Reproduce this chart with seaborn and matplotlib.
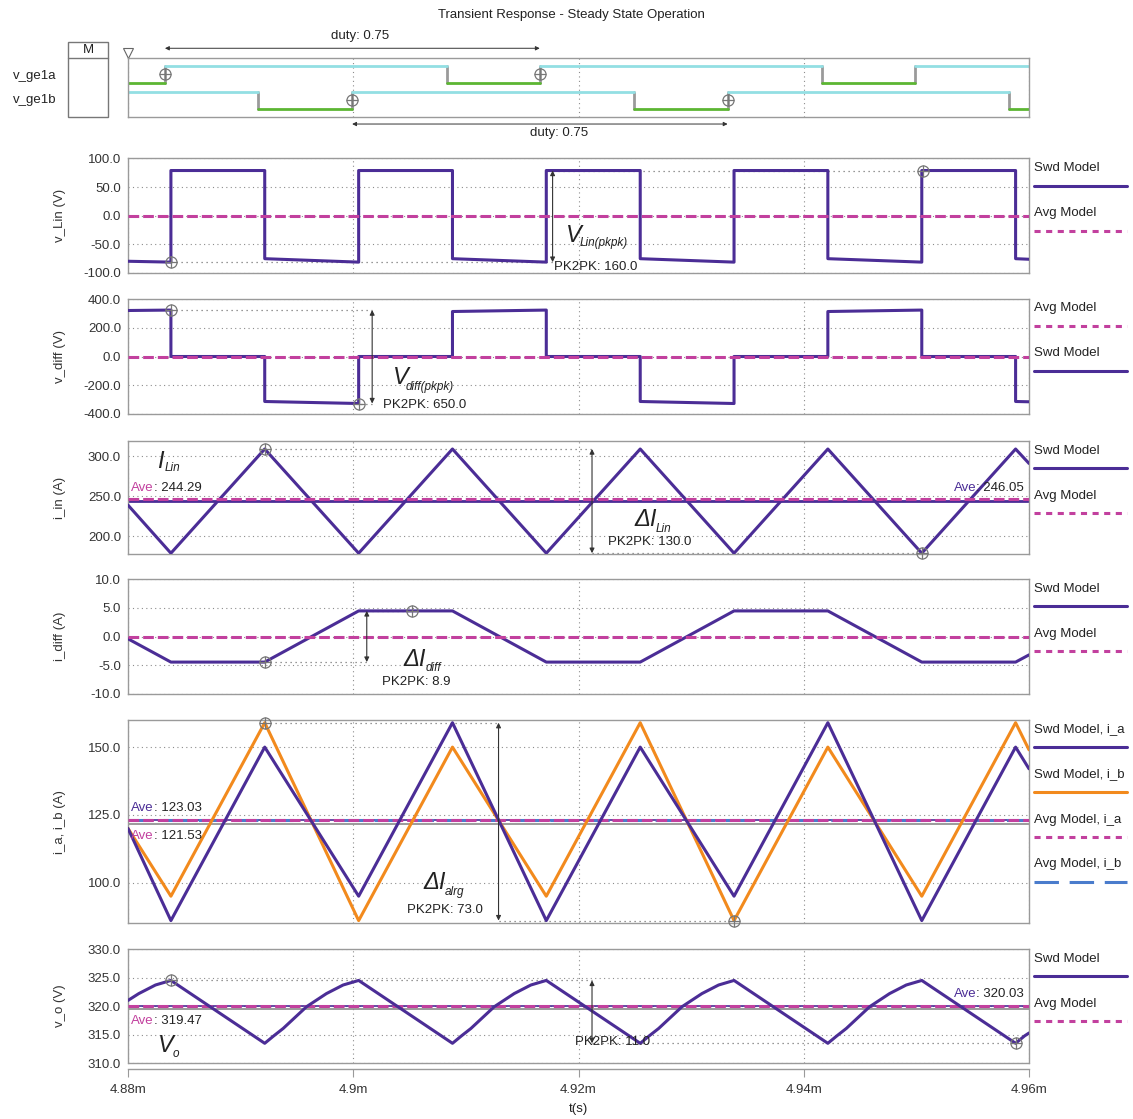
import numpy as np
import pandas as pd
import matplotlib
matplotlib.use("Agg")
import matplotlib.pyplot as plt
import seaborn as sns
from matplotlib.lines import Line2D
from matplotlib.patches import Rectangle
from matplotlib.ticker import FormatStrFormatter
from matplotlib.offsetbox import TextArea, HPacker, AnnotationBbox

# ---------------- data: time in microseconds after 4.88 ms ----------------
T0_MS = 4.88

# gate signals: edge times and the state held until the next edge
GE1A_T = [0, 3.28, 28.30, 36.56, 61.60, 69.90, 80]
GE1A_S = [0, 1, 0, 1, 0, 1]
GE1B_T = [0, 11.55, 19.90, 44.90, 53.24, 78.20, 80]
GE1B_S = [1, 0, 1, 0, 1, 0]
GATE_CURSORS = [(3.28, "a"), (36.56, "a"), (19.90, "b"), (53.24, "b")]
DUTY_SPANS = [(3.28, 36.56), (19.90, 53.24)]
DUTY = 0.75

# square-wave voltages
STEP_T = [0, 3.81, 3.81, 12.14, 12.14, 20.48, 20.48, 28.81, 28.81, 37.14, 37.14,
          45.48, 45.48, 53.81, 53.81, 62.14, 62.14, 70.48, 70.48, 78.81, 78.81, 80]
VLIN_V = [-79.5, -81, 79, 79, -75, -81, 79, 79, -75, -81, 79,
          79, -75, -81, 79, 79, -75, -81, 79, 79, -75, -76]
VDIFF_V = [320, 323, 0, 0, -313, -327, 0, 0, 313, 323, 0,
           0, -313, -327, 0, 0, 313, 323, 0, 0, -313, -315]

# piecewise-linear currents
TRI_T = [0, 3.81, 12.14, 20.48, 28.81, 37.14, 45.48, 53.81, 62.14, 70.48, 78.81, 80]
ILIN_V = [239, 179, 309, 179, 309, 179, 309, 179, 309, 179, 309, 291]
IDIFF_V = [-0.4, -4.45, -4.45, 4.45, 4.45, -4.45, -4.45, 4.45, 4.45, -4.45, -4.45, -3.2]
IA_V = [120, 86, 150, 95, 159, 86, 150, 95, 159, 86, 150, 142]
IB_V = [120, 95, 159, 86, 150, 95, 159, 86, 150, 95, 159, 149]

# output voltage ripple
VO_T = [0, 0.96, 2.44, 3.81,
        12.14, 12.94, 13.78, 15.85, 17.62, 19.10, 20.48,
        28.81, 29.61, 30.45, 32.52, 34.29, 35.77, 37.14,
        45.48, 46.28, 47.12, 49.19, 50.96, 52.44, 53.81,
        62.14, 62.94, 63.78, 65.85, 67.62, 69.10, 70.48,
        78.81, 79.61, 80]
VO_V = [321.0, 322.2, 323.7, 324.5,
        313.5, 314.8, 316.1, 319.9, 322.2, 323.7, 324.5,
        313.5, 314.8, 316.1, 319.9, 322.2, 323.7, 324.5,
        313.5, 314.8, 316.1, 319.9, 322.2, 323.7, 324.5,
        313.5, 314.8, 316.1, 319.9, 322.2, 323.7, 324.5,
        313.5, 314.8, 315.3]

# averaged-model traces (constant)
AVG_T = [0, 80]
AVG_VLIN = [0, 0]
AVG_VDIFF = [0, 0]
AVG_ILIN = [246.05, 246.05]
AVG_IDIFF = [0, 0]
AVG_IA = [123.03, 123.03]
AVG_IB = [123.0, 123.0]
AVG_VO = [320.0, 320.0]

# "Ave" readouts
AVE_ILIN = [244.29, 246.05]
AVE_IAB = [123.03, 121.53]
AVE_VO = [319.47, 320.03]

# pk-pk cursors: (t1, y1), (t2, y2), arrow time, reading
CURSORS = [
    ((3.81, -81), (70.6, 79), 37.7, 160.0),
    ((3.81, 323), (20.48, -327), 21.68, 650.0),
    ((12.14, 309), (70.48, 179), 41.2, 130.0),
    ((12.14, -4.45), (25.2, 4.45), 21.2, 8.9),
    ((12.14, 159), (53.81, 86), 32.9, 73.0),
    ((3.81, 324.5), (78.81, 313.5), 41.2, 11.0),
]

X_TICKS = [0, 20, 40, 60, 80]
X_LABELS = ["4.88m", "4.9m", "4.92m", "4.94m", "4.96m"]

# ---------------- style ----------------
PURPLE = "#4b2d96"
MAGENTA = "#c2409e"
ORANGE = "#f28a1d"
BLUE = "#4a7ccc"
CYAN = "#93dfe3"
GREEN = "#5cb632"
GRID = "#8c8c8c"
FRAME = "#9a9a9a"
TXT = "#222222"
FS = 9.5

sns.set_style("white")
plt.rcParams["font.family"] = ["Liberation Sans", "DejaVu Sans"]

W, H = 1133, 1119
fig = plt.figure(figsize=(W / 100, H / 100), dpi=100)
fig.patch.set_facecolor("white")

L_PX, R_PX = 128, 1029


def to_ms(us):
    return T0_MS + np.asarray(us, dtype=float) / 1000.0


def fxy(x, y):
    return x / W, 1 - y / H


def ftext(x, y, s, **kw):
    kw.setdefault("fontsize", FS)
    kw.setdefault("color", TXT)
    kw.setdefault("va", "center")
    fig.text(*fxy(x, y), s, **kw)


def add_ax(top, bottom):
    return fig.add_axes([L_PX / W, 1 - bottom / H, (R_PX - L_PX) / W, (bottom - top) / H])


def trace(ax, t, v, color, lw=2.2, ls="-", z=3):
    df = pd.DataFrame({"t": to_ms(t), "v": v})
    sns.lineplot(data=df, x="t", y="v", ax=ax, color=color, linewidth=lw,
                 estimator=None, sort=False, legend=False, linestyle=ls, zorder=z)


def cursor(ax, t, y):
    for m in ("o", "+"):
        ax.plot(to_ms([t]), [y], marker=m, ms=8, mfc="none", mec="#777777",
                mew=0.9, ls="none", clip_on=False, zorder=8)


def frame(ax):
    for s in ax.spines.values():
        s.set_color(FRAME)
        s.set_linewidth(1.0)
    ax.set_xlim(to_ms(0), to_ms(80))
    ax.set_xticks(to_ms(X_TICKS))
    ax.grid(True, ls=(0, (1, 3)), color=GRID, lw=0.8)
    ax.set_axisbelow(True)
    ax.set_xlabel("")
    ax.tick_params(axis="x", bottom=False, labelbottom=False)
    ax.tick_params(axis="y", direction="out", length=3, color=FRAME,
                   labelsize=FS, labelcolor="#333333", pad=2)


DASH_AVG = (0, (3.5, 1.3))
LEG_STYLE = {
    "swd": dict(color=PURPLE, ls="-"),
    "avg": dict(color=MAGENTA, ls=(0, (2.0, 1.8))),
    "orange": dict(color=ORANGE, ls="-"),
    "blue": dict(color=BLUE, ls=(0, (8, 3.5))),
}


def side_legend(top, items):
    for i, (label, key) in enumerate(items):
        ty = top + 9.5 + 45 * i
        ftext(1034, ty, label, ha="left")
        st = LEG_STYLE[key]
        fig.add_artist(Line2D([1034 / W, 1127 / W], [1 - (ty + 17.5) / H] * 2,
                              transform=fig.transFigure, lw=2.2, color=st["color"], ls=st["ls"]))


def ave_label(x, y, value, color, ha):
    box = HPacker(children=[TextArea("Ave", textprops=dict(color=color, fontsize=FS)),
                            TextArea(f": {value:.2f}", textprops=dict(color=TXT, fontsize=FS))],
                  pad=0, sep=0, align="baseline")
    ab = AnnotationBbox(box, fxy(x, y), xycoords="figure fraction", frameon=False, pad=0,
                        box_alignment=(0 if ha == "left" else 1, 0.5))
    fig.add_artist(ab)


def symbol(x, y, big, sub, sub_dx, sub_dy):
    ftext(x, y, big, ha="left", fontsize=17, style="italic")
    ftext(x + sub_dx, y + sub_dy, sub, ha="left", fontsize=8.5, style="italic")


def pk2pk(ax, cur, tx, ty):
    (t1, y1), (t2, y2), ta, val = cur
    ax.plot(to_ms([t1, ta]), [y1, y1], ls=(0, (1, 3)), color="#777777", lw=0.9, zorder=2)
    ax.plot(to_ms([ta, t2]), [y2, y2], ls=(0, (1, 3)), color="#777777", lw=0.9, zorder=2)
    ax.annotate("", xy=(to_ms(ta), y2), xytext=(to_ms(ta), y1),
                arrowprops=dict(arrowstyle="<|-|>", color="#333333", lw=0.8,
                                mutation_scale=7, shrinkA=0, shrinkB=0), zorder=7)
    cursor(ax, t1, y1)
    cursor(ax, t2, y2)
    ftext(tx, ty, f"PK2PK: {val:.1f}", ha="left")


# ---------------- title and digital panel ----------------
ftext(571, 15, "Transient Response - Steady State Operation", ha="center")

axd = add_ax(58.3, 117.3)
frame(axd)
axd.set_ylim(0, 1)
axd.set_yticks([])
axd.grid(False)
axd.grid(True, axis="x", ls=(0, (1, 3)), color=GRID, lw=0.8)

GATE_LAYOUT = {"a": (0.585, 0.285), "b": (0.145, 0.29)}


def gate_rows(times, states, key):
    base, amp = GATE_LAYOUT[key]
    rows = []
    for i, s in enumerate(states):
        y = base + amp * s
        kind = "high" if s else "low"
        rows += [(times[i], y, f"{key}h{i}", kind), (times[i + 1], y, f"{key}h{i}", kind)]
        if i > 0:
            y0 = base + amp * states[i - 1]
            rows += [(times[i], y0, f"{key}e{i}", "edge"), (times[i], y, f"{key}e{i}", "edge")]
    return rows


gdf = pd.DataFrame(gate_rows(GE1A_T, GE1A_S, "a") + gate_rows(GE1B_T, GE1B_S, "b"),
                   columns=["t", "y", "seg", "kind"])
gdf["t"] = to_ms(gdf["t"])
sns.lineplot(data=gdf, x="t", y="y", hue="kind", units="seg", estimator=None, sort=False,
             palette={"high": CYAN, "low": GREEN, "edge": "#9a9a9a"},
             hue_order=["edge", "low", "high"], legend=False, linewidth=2.0, ax=axd)
axd.set_xlabel("")
axd.set_ylabel("")
for t, key in GATE_CURSORS:
    base, amp = GATE_LAYOUT[key]
    cursor(axd, t, base + amp / 2)

for (ta, tb), ya, ty, tt in zip(DUTY_SPANS, [1.17, -0.114], [20.58, 38.3], [1.37, -0.27]):
    axd.annotate("", xy=(to_ms(tb), ya), xytext=(to_ms(ta), ya),
                 xycoords=("data", "axes fraction"), textcoords=("data", "axes fraction"),
                 arrowprops=dict(arrowstyle="<|-|>", color="#333333", lw=0.7,
                                 mutation_scale=6, shrinkA=0, shrinkB=0), annotation_clip=False)
    axd.text(to_ms(ty), tt, f"duty: {DUTY}", transform=axd.get_xaxis_transform(),
             ha="center", va="center", fontsize=FS, color=TXT, clip_on=False)

axd.plot([0], [1.09], marker="v", ms=7, mfc="white", mec="#666666", mew=0.8,
         transform=axd.transAxes, clip_on=False)
ftext(12.5, 76, "v_ge1a", ha="left")
ftext(12.5, 100, "v_ge1b", ha="left")
fig.add_artist(Rectangle(fxy(68, 117.3), 40 / W, (117.3 - 41.7) / H, transform=fig.transFigure,
                         fill=False, ec="#777777", lw=1.0))
fig.add_artist(Line2D([68 / W, 108 / W], [1 - 58.3 / H] * 2, transform=fig.transFigure,
                      color="#777777", lw=1.0))
ftext(88, 50, "M", ha="center")

# ---------------- analog panels ----------------
PANELS = [
    # top, bottom, ylim, yticks, ylabel
    (158.5, 273, (-100, 100), [-100, -50, 0, 50, 100], "v_Lin (V)"),
    (299, 414, (-400, 400), [-400, -200, 0, 200, 400], "v_diff (V)"),
    (441, 554, (178, 319), [200, 250, 300], "i_in (A)"),
    (579, 694, (-10, 10), [-10, -5, 0, 5, 10], "i_diff (A)"),
    (720, 923.3, (85, 160), [100, 125, 150], "i_a, i_b (A)"),
    (949, 1063.3, (310, 330), [310, 315, 320, 325, 330], "v_o (V)"),
]
axes = []
for top, bot, ylim, yt, lab in PANELS:
    ax = add_ax(top, bot)
    frame(ax)
    ax.set_ylim(*ylim)
    ax.set_yticks(yt)
    ax.yaxis.set_major_formatter(FormatStrFormatter("%.1f"))
    ax.set_ylabel(lab, fontsize=FS, color="#333333")
    ax.yaxis.set_label_coords((66 - L_PX) / (R_PX - L_PX), 0.5)
    axes.append(ax)
a1, a2, a3, a4, a5, a6 = axes

# v_Lin
trace(a1, AVG_T, AVG_VLIN, MAGENTA, ls=DASH_AVG, z=4)
trace(a1, STEP_T, VLIN_V, PURPLE)
pk2pk(a1, CURSORS[0], 554, 266.7)
symbol(566, 235, "V", "Lin(pkpk)", 14, 8)
side_legend(158.5, [("Swd Model", "swd"), ("Avg Model", "avg")])

# v_diff
trace(a2, STEP_T, VDIFF_V, PURPLE)
trace(a2, AVG_T, AVG_VDIFF, MAGENTA, ls=DASH_AVG, z=4)
pk2pk(a2, CURSORS[1], 383, 405)
symbol(393, 378, "V", "diff(pkpk)", 12.5, 9)
side_legend(299, [("Avg Model", "avg"), ("Swd Model", "swd")])

# i_in
a3.axhline(AVE_ILIN[0], color=PURPLE, lw=2.0, zorder=2)
trace(a3, AVG_T, AVG_ILIN, MAGENTA, ls=DASH_AVG, z=4)
trace(a3, TRI_T, ILIN_V, PURPLE)
pk2pk(a3, CURSORS[2], 608, 542)
symbol(157, 461, "I", "Lin", 7.5, 7)
symbol(634, 520, "ΔI", "Lin", 22, 9)
ave_label(131, 488, AVE_ILIN[0], MAGENTA, "left")
ave_label(1024, 488, AVE_ILIN[1], PURPLE, "right")
side_legend(441, [("Swd Model", "swd"), ("Avg Model", "avg")])

# i_diff
trace(a4, AVG_T, AVG_IDIFF, MAGENTA, ls=DASH_AVG, z=4)
trace(a4, TRI_T, IDIFF_V, PURPLE)
pk2pk(a4, CURSORS[3], 382, 682)
symbol(403.6, 660, "ΔI", "diff", 22, 8)
side_legend(579, [("Swd Model", "swd"), ("Avg Model", "avg")])

# i_a, i_b
a5.axhline(AVE_IAB[1], color="#8a8a8a", lw=1.2, zorder=2)
a5.axhline(AVE_IAB[0], color=PURPLE, lw=1.2, zorder=2)
trace(a5, AVG_T, AVG_IB, BLUE, ls=(0, (8, 3.5)), z=2.5)
trace(a5, AVG_T, AVG_IA, MAGENTA, ls=DASH_AVG, z=2.6)
trace(a5, TRI_T, IB_V, ORANGE)
trace(a5, TRI_T, IA_V, PURPLE)
pk2pk(a5, CURSORS[4], 407, 910)
symbol(423, 882.5, "ΔI", "alrg", 22, 9)
ave_label(131, 808.3, AVE_IAB[0], PURPLE, "left")
ave_label(131, 835.7, AVE_IAB[1], MAGENTA, "left")
side_legend(720, [("Swd Model, i_a", "swd"), ("Swd Model, i_b", "orange"),
                  ("Avg Model, i_a", "avg"), ("Avg Model, i_b", "blue")])

# v_o
a6.axhline(AVE_VO[0], color="#8a8a8a", lw=1.2, zorder=2)
a6.axhline(AVE_VO[1], color=PURPLE, lw=1.2, zorder=2)
trace(a6, AVG_T, AVG_VO, MAGENTA, ls=DASH_AVG, z=2.6)
trace(a6, VO_T, VO_V, PURPLE)
pk2pk(a6, CURSORS[5], 575, 1041.7)
symbol(158, 1045.5, "V", "o", 15, 8.5)
ave_label(131, 1021, AVE_VO[0], MAGENTA, "left")
ave_label(1024, 994.3, AVE_VO[1], PURPLE, "right")
side_legend(949, [("Swd Model", "swd"), ("Avg Model", "avg")])

a6.spines["bottom"].set_position(("outward", 4))
a6.axhline(310, color=FRAME, lw=1.0, clip_on=False, zorder=1)
a6.tick_params(axis="x", bottom=True, labelbottom=True, direction="out", length=6,
               color=FRAME, labelsize=FS, labelcolor="#333333", pad=5)
a6.set_xticklabels(X_LABELS)
ftext(578, 1109, "t(s)", ha="center")

fig.savefig("out.png", dpi=100, facecolor="white")
